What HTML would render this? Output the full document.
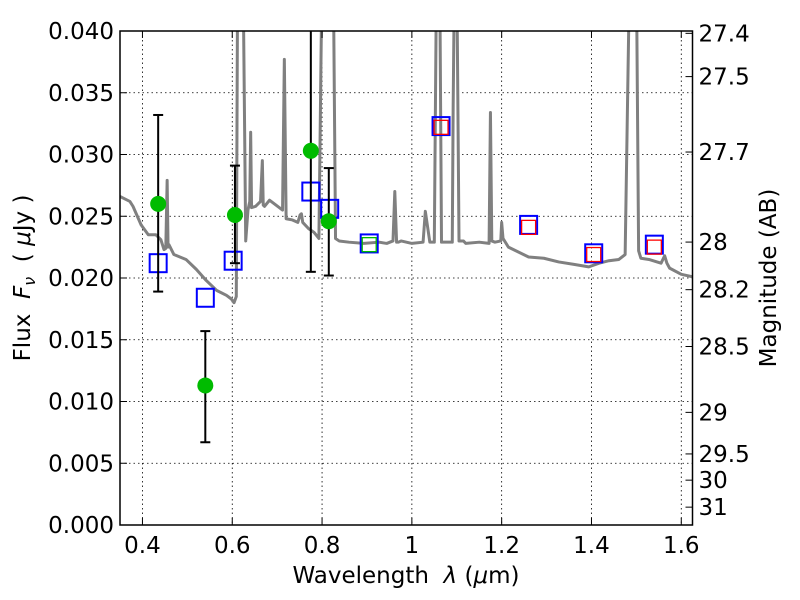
<!DOCTYPE html>
<html><head><meta charset="utf-8"><style>
body{margin:0;background:#fff;}
svg{display:block;font-family:"DejaVu Sans","Liberation Sans",sans-serif;}
</style></head><body>
<svg id="chart" width="800" height="600" xmlns="http://www.w3.org/2000/svg">
<rect width="800" height="600" fill="#fff"/>
<defs><clipPath id="pc"><rect x="120" y="31" width="572.5" height="494"/></clipPath></defs>
<g id="grid"></g>
<g id="spec" clip-path="url(#pc)"></g>
<g id="marks" clip-path="url(#pc)"></g>
<rect x="120" y="31" width="572.5" height="494" fill="none" stroke="#000" stroke-width="1.5"/>
<g id="axes"></g>
<text x="406" y="583" font-size="23" text-anchor="middle">Wavelength&#160;&#160;<tspan font-style="italic">λ</tspan> (<tspan font-style="italic">μ</tspan>m)</text>
<text transform="translate(30,278) rotate(-90)" font-size="23" text-anchor="middle">Flux&#160;&#160;<tspan font-style="italic">F</tspan><tspan font-style="italic" font-size="16" dy="5">ν</tspan><tspan dy="-5">&#160;&#160;(&#160;</tspan><tspan font-style="italic">μ</tspan>Jy )</text>
<text transform="translate(776,278) rotate(-90)" font-size="23" text-anchor="middle">Magnitude (AB)</text>
</svg>
<script>
const xTicks=[0.4,0.6,0.8,1.0,1.2,1.4,1.6];
const xTickLabels=["0.4","0.6","0.8","1","1.2","1.4","1.6"];
const yTicks=[0,0.005,0.01,0.015,0.02,0.025,0.03,0.035,0.04];
const yTickLabels=["0.000","0.005","0.010","0.015","0.020","0.025","0.030","0.035","0.040"];
const magTicks=[27.4,27.5,27.7,28,28.2,28.5,29,29.5,30,31];
const magTickLabels=["27.4","27.5","27.7","28","28.2","28.5","29","29.5","30","31"];
const specLam=[0.35,0.372,0.379,0.397,0.413,0.43,0.441,0.448,0.452,0.455,0.457,0.459,0.47,0.497,0.52,0.542,0.565,0.587,0.598,0.604,0.609,0.612,0.615,0.618,0.621,0.624,0.63,0.635,0.639,0.641,0.643,0.652,0.663,0.667,0.669,0.672,0.683,0.712,0.716,0.72,0.734,0.746,0.751,0.754,0.757,0.77,0.782,0.793,0.8,0.806,0.81,0.815,0.82,0.825,0.83,0.838,0.86,0.893,0.927,0.944,0.958,0.962,0.966,0.97,0.976,1.0,1.025,1.03,1.04,1.05,1.055,1.062,1.066,1.072,1.075,1.09,1.092,1.095,1.1,1.105,1.115,1.12,1.15,1.172,1.175,1.178,1.185,1.198,1.2,1.203,1.215,1.26,1.294,1.327,1.361,1.394,1.417,1.439,1.461,1.475,1.485,1.49,1.495,1.5,1.505,1.51,1.528,1.555,1.563,1.568,1.574,1.6,1.625];
const specFlux=[0.0266,0.0262,0.0258,0.0243,0.0235,0.0235,0.0231,0.0223,0.0224,0.0279,0.0225,0.0227,0.0219,0.0215,0.0207,0.0198,0.019,0.0186,0.0183,0.018,0.0185,0.045,0.045,0.045,0.045,0.045,0.023,0.0255,0.0262,0.0318,0.0257,0.0258,0.0262,0.0295,0.0259,0.0258,0.0263,0.0255,0.0377,0.0248,0.0247,0.0245,0.0251,0.0252,0.0245,0.024,0.0237,0.0232,0.045,0.045,0.045,0.045,0.045,0.045,0.0232,0.023,0.0229,0.0228,0.0229,0.0228,0.023,0.027,0.0229,0.0229,0.023,0.0228,0.0229,0.0254,0.0229,0.0229,0.045,0.045,0.0229,0.0229,0.0229,0.0229,0.034,0.045,0.045,0.023,0.023,0.0228,0.0229,0.0228,0.0334,0.023,0.0229,0.023,0.0245,0.0232,0.0225,0.0217,0.0216,0.0213,0.0211,0.0209,0.0212,0.0214,0.0215,0.0219,0.045,0.045,0.045,0.045,0.0222,0.0216,0.0215,0.0212,0.0218,0.0212,0.0208,0.0203,0.0201];
const obsLam=[0.435,0.54,0.606,0.775,0.815];
const obsFlux=[0.0260,0.0113,0.0251,0.0303,0.0246];
const obsLo=[0.0189,0.0067,0.0212,0.0205,0.0202];
const obsHi=[0.0332,0.0157,0.0291,0.045,0.0289];
const modLam=[0.435,0.54,0.602,0.775,0.817,0.905,1.065,1.26,1.405,1.54];
const modFlux=[0.0212,0.0184,0.0214,0.0270,0.0256,0.0228,0.0323,0.0243,0.0220,0.0227];
const redLam=[1.065,1.26,1.405,1.54];
const redFlux=[0.0322,0.0241,0.0219,0.0225];
const grnLam=[0.905];
const grnFlux=[0.0227];

const X0=120,X1=692.5,Y0=525,Y1=31,LMIN=0.35,LMAX=1.625,FMAX=0.04;
const xs=l=>X0+(l-LMIN)/(LMAX-LMIN)*(X1-X0);
const ys=f=>Y0-f/FMAX*(Y0-Y1);
const magToFlux=m=>Math.pow(10,(23.9-m)/2.5);
const NS="http://www.w3.org/2000/svg";
function mk(tag,attrs,parent){const e=document.createElementNS(NS,tag);for(const k in attrs)e.setAttribute(k,attrs[k]);parent.appendChild(e);return e;}
const grid=document.getElementById('grid'),axes=document.getElementById('axes'),spec=document.getElementById('spec'),marks=document.getElementById('marks');
xTicks.forEach((t,i)=>{const x=xs(t);
 const g=mk('line',{x1:x,x2:x,y1:Y1,y2:Y0,stroke:'#000','stroke-width':0.8,'stroke-dasharray':'1.5,3'},grid);
 
 
 mk('line',{x1:x,x2:x,y1:Y0,y2:Y0-7,stroke:'#000'},axes);
 mk('line',{x1:x,x2:x,y1:Y1,y2:Y1+7,stroke:'#000'},axes);
 const t2=mk('text',{x:x,y:Y0+28,'font-size':23,'text-anchor':'middle'},axes);t2.textContent=xTickLabels[i];
 
 });
yTicks.forEach((t,i)=>{const y=ys(t);
 const g=mk('line',{x1:X0,x2:X1,y1:y,y2:y,stroke:'#000','stroke-width':0.8,'stroke-dasharray':'1.5,3'},grid);
 
 
 mk('line',{x1:X0,x2:X0+7,y1:y,y2:y,stroke:'#000'},axes);
 const t2=mk('text',{x:X0-6,y:y+8,'font-size':23,'text-anchor':'end'},axes);t2.textContent=yTickLabels[i];
 
 });
magTicks.forEach((m,i)=>{const y=ys(magToFlux(m));
 mk('line',{x1:X1,x2:X1-7,y1:y,y2:y,stroke:'#000'},axes);
 const t2=mk('text',{x:X1+6,y:y+8,'font-size':23},axes);t2.textContent=magTickLabels[i];
 
 });
const sp=mk('polyline',{points:specLam.map((l,i)=>xs(l)+','+ys(specFlux[i])).join(' '),fill:'none',stroke:'#808080','stroke-width':3,'stroke-linejoin':'round'},spec);


modLam.forEach((l,i)=>{const x=xs(l),y=ys(modFlux[i]);
 const r=mk('rect',{x:x-8.5,y:y-9,width:17,height:18,fill:'none',stroke:'#0000ff','stroke-width':2},marks);
 
 });
redLam.forEach((l,i)=>{const x=xs(l),y=ys(redFlux[i]);
 const r=mk('rect',{x:x-7,y:y-7,width:14,height:14,fill:'none',stroke:'#ff0000','stroke-width':1.3},marks);
 
 });
grnLam.forEach((l,i)=>{const x=xs(l),y=ys(grnFlux[i]);
 const r=mk('rect',{x:x-7,y:y-7,width:14,height:14,fill:'none',stroke:'#00bb00','stroke-width':1.3},marks);
 
 });
obsLam.forEach((l,i)=>{const x=xs(l);
 const e=mk('line',{x1:x,x2:x,y1:ys(obsLo[i]),y2:ys(obsHi[i]),stroke:'#000','stroke-width':2},marks);
 
 
 [obsLo[i],obsHi[i]].forEach(v=>mk('line',{x1:x-5,x2:x+5,y1:ys(v),y2:ys(v),stroke:'#000','stroke-width':2},marks));
 const c=mk('circle',{cx:x,cy:ys(obsFlux[i]),r:8,fill:'#00bb00'},marks);
 
 });
</script>
</body></html>
